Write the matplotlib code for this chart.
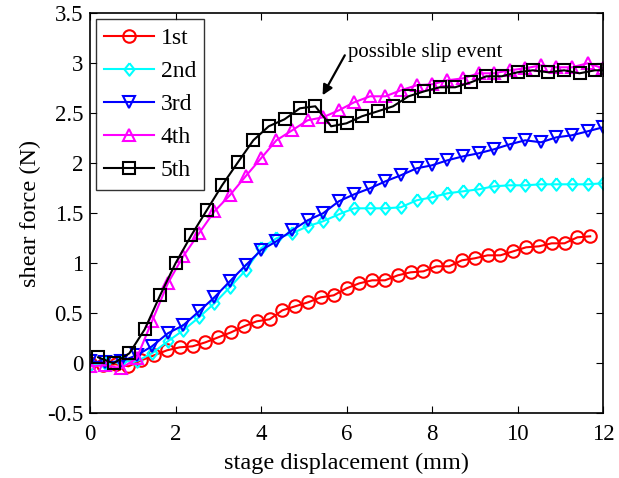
import matplotlib
matplotlib.use('Agg')
import matplotlib.pyplot as plt
import numpy as np

# shear force vs stage displacement, five repeated runs

x_run1 = [0.0, 0.3, 0.6, 0.9, 1.2, 1.5, 1.8, 2.1, 2.4, 2.7, 3.0, 3.3, 3.6, 3.9,
          4.2, 4.5, 4.8, 5.1, 5.4, 5.7, 6.0, 6.3, 6.6, 6.9, 7.2, 7.5, 7.8, 8.1,
          8.4, 8.7, 9.0, 9.3, 9.6, 9.9, 10.2, 10.5, 10.8, 11.1, 11.4, 11.7]
f_run1 = [0.0, -0.02, -0.01, -0.03, 0.03, 0.08, 0.13, 0.16, 0.17, 0.21, 0.26,
          0.31, 0.37, 0.42, 0.44, 0.53, 0.57, 0.61, 0.66, 0.68, 0.75, 0.80,
          0.83, 0.83, 0.88, 0.91, 0.92, 0.97, 0.97, 1.03, 1.05, 1.08, 1.08,
          1.12, 1.16, 1.17, 1.20, 1.20, 1.26, 1.27]

# runs 2-4 share the same sampling grid
x_grid = [0.0, 0.36, 0.73, 1.09, 1.45, 1.82, 2.18, 2.55, 2.91, 3.27, 3.64,
          4.0, 4.36, 4.73, 5.09, 5.45, 5.82, 6.18, 6.55, 6.91, 7.27, 7.64,
          8.0, 8.36, 8.73, 9.09, 9.45, 9.82, 10.18, 10.55, 10.91, 11.27,
          11.64, 12.0]
f_run2 = [-0.02, 0.0, 0.02, 0.02, 0.10, 0.22, 0.33, 0.46, 0.60, 0.76, 0.93,
          1.15, 1.25, 1.30, 1.37, 1.42, 1.49, 1.55, 1.55, 1.55, 1.56, 1.63,
          1.66, 1.70, 1.72, 1.74, 1.77, 1.78, 1.78, 1.79, 1.79, 1.79, 1.79,
          1.80]
f_run3 = [0.02, 0.01, 0.02, 0.08, 0.17, 0.30, 0.38, 0.52, 0.66, 0.82, 0.98,
          1.13, 1.22, 1.33, 1.43, 1.50, 1.62, 1.69, 1.75, 1.82, 1.88, 1.95,
          1.98, 2.03, 2.07, 2.10, 2.14, 2.19, 2.23, 2.21, 2.26, 2.28, 2.32,
          2.36]
f_run4 = [-0.03, -0.02, -0.05, 0.05, 0.42, 0.80, 1.07, 1.30, 1.52, 1.68, 1.87,
          2.05, 2.23, 2.33, 2.43, 2.46, 2.53, 2.61, 2.67, 2.67, 2.73, 2.78,
          2.79, 2.83, 2.85, 2.90, 2.90, 2.93, 2.95, 2.98, 2.96, 2.96, 3.00,
          2.95]

x_run5 = [0.19, 0.55, 0.92, 1.28, 1.64, 2.0, 2.37, 2.73, 3.09, 3.46, 3.82,
          4.18, 4.55, 4.91, 5.27, 5.64, 6.0, 6.36, 6.73, 7.09, 7.45, 7.82,
          8.18, 8.54, 8.91, 9.27, 9.63, 10.0, 10.36, 10.72, 11.09, 11.45,
          11.81, 12.17]
f_run5 = [0.06, 0.0, 0.10, 0.34, 0.68, 1.0, 1.28, 1.53, 1.78, 2.01, 2.23,
          2.37, 2.44, 2.55, 2.57, 2.37, 2.40, 2.47, 2.52, 2.57, 2.67, 2.72,
          2.76, 2.76, 2.81, 2.87, 2.87, 2.91, 2.93, 2.91, 2.93, 2.90, 2.93,
          2.93]

labels = ['1st', '2nd', '3rd', '4th', '5th']

plt.rcParams['font.family'] = ['Liberation Serif', 'DejaVu Serif']

fig = plt.figure(figsize=(6.19, 4.78), dpi=100)
ax = fig.add_axes([0.1454, 0.1353, 0.8288, 0.8369])

diamond = [(0, 1), (0.8, 0), (0, -1), (-0.8, 0), (0, 1)]
style = dict(linewidth=1.5, markeredgewidth=1.5, markerfacecolor='none')

ax.plot(x_run1, f_run1, color='#ff0000', marker='o', markersize=9, label=labels[0], **style)
ax.plot(x_grid, f_run2, color='#00ffff', marker=diamond, markersize=9, label=labels[1], **style)
ax.plot(x_grid, f_run3, color='#0000ff', marker='v', markersize=9, label=labels[2], **style)
ax.plot(x_grid, f_run4, color='#ff00ff', marker='^', markersize=9, label=labels[3], **style)
ax.plot(x_run5, f_run5, color='black', marker='s', markersize=9, label=labels[4], **style)

# slip annotation: arrow and text drawn separately
ax.annotate('', xy=(5.44, 2.68), xytext=(5.96, 3.08),
            arrowprops=dict(arrowstyle='-|>', color='black', lw=1.6,
                            shrinkA=0, shrinkB=0, mutation_scale=15))
ax.text(6.04, 3.06, 'possible slip event', fontsize=15, ha='left', va='baseline')

ax.set_xlim(0, 12)
ax.set_ylim(-0.5, 3.5)
ax.set_xticks(np.arange(0, 13, 2))
ax.set_yticks(np.arange(-0.5, 3.6, 0.5))
ax.set_yticklabels(['-0.5', '0', '0.5', '1', '1.5', '2', '2.5', '3', '3.5'])
ax.tick_params(direction='in', top=True, right=True, length=5, labelsize=16.5)
ax.tick_params(axis='x', pad=8)
ax.tick_params(axis='y', pad=5)
for s in ax.spines.values():
    s.set_linewidth(1.2)

ax.set_xlabel('stage displacement (mm)', fontsize=17.5, labelpad=5)
ax.set_ylabel('shear force (N)', fontsize=17.5, labelpad=4)

leg = ax.legend(loc='upper left', fontsize=17, frameon=True, fancybox=False,
                edgecolor='black', handlelength=2.1, borderaxespad=0.25,
                labelspacing=0.49, handletextpad=0.3, borderpad=0.35)
leg.get_frame().set_linewidth(1.0)

fig.savefig('out.png', dpi=100)
